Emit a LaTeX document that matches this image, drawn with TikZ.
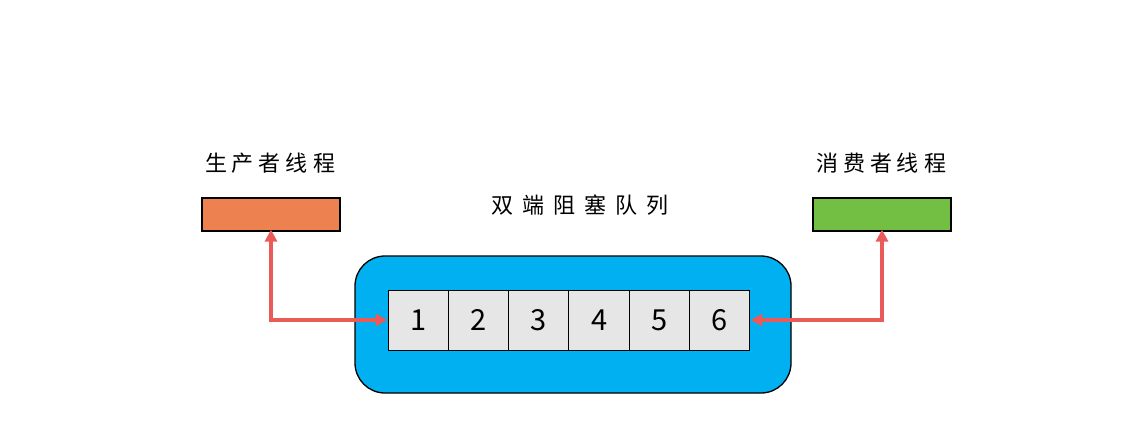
\documentclass[tikz,border=0pt]{standalone}
\usepackage{fontspec}
\setmainfont{Noto Sans CJK SC}
\usetikzlibrary{arrows.meta}
\definecolor{prodc}{HTML}{EE8150}
\definecolor{consc}{HTML}{72BF44}
\definecolor{queuec}{HTML}{00B0F0}
\definecolor{cellc}{HTML}{E6E6E6}
\definecolor{arrc}{HTML}{E95A59}
\newcommand\gp{\hspace{5pt}}
\newcommand\gq{\hspace{9pt}}
\begin{document}
\begin{tikzpicture}[x=1pt,y=-1pt,
  thread/.style={draw=black,line width=1.2pt,minimum width=138pt,minimum height=33pt,inner sep=0pt},
  queuebox/.style={draw=black,line width=1.3pt,fill=queuec,rounded corners=30pt,minimum width=436pt,minimum height=137pt,inner sep=0pt},
  cell/.style={draw=black,line width=1pt,fill=cellc,minimum width=60.33pt,minimum height=60pt,inner sep=0pt,font=\fontsize{29}{30}\selectfont},
  lbl/.style={inner sep=0pt,font=\fontsize{22}{24}\selectfont},
  arr/.style={draw=arrc,line width=3.2pt,{Triangle[length=12pt,width=12pt]}-{Triangle[length=12pt,width=12pt]}}]
\useasboundingbox (0,0) rectangle (1142,432);
\node[thread,fill=prodc] (prod) at (271,214.5) {};
\node[thread,fill=consc] (cons) at (882,214.5) {};
\node[lbl] (prodl) at (270,163) {生\gp 产\gp 者\gp 线\gp 程};
\node[lbl] (consl) at (881,163) {消\gp 费\gp 者\gp 线\gp 程};
\node[lbl] (title) at (580,205) {双\gq 端\gq 阻\gq 塞\gq 队\gq 列};
\node[queuebox] (q) at (573,324.5) {};
\foreach \i in {1,...,6}{
  \node[cell] (c\i) at ({388+60.33*(\i-0.5)},320) {\i};
}
\draw[arr] (c1.west) -| ([yshift=2pt]prod.south);
\draw[arr] (c6.east) -| ([yshift=2pt]cons.south);
\end{tikzpicture}
\end{document}
